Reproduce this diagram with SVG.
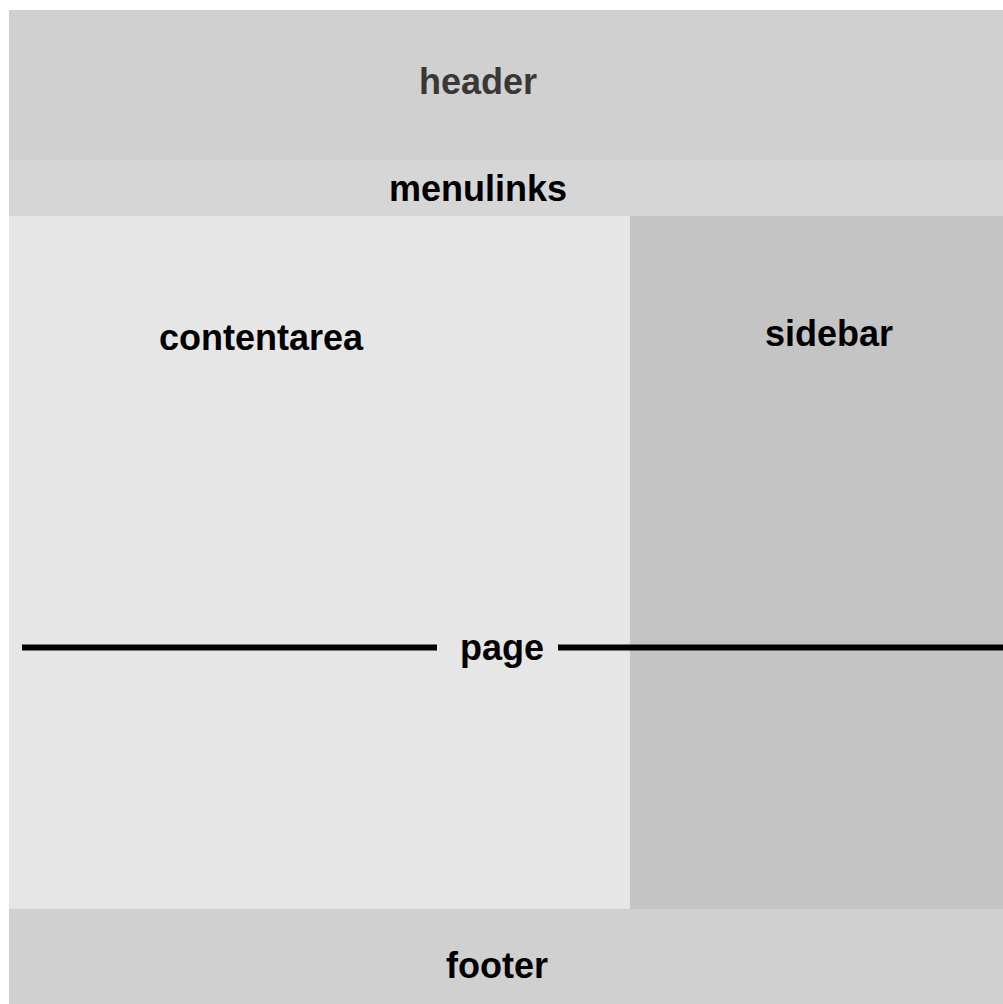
<svg xmlns="http://www.w3.org/2000/svg" width="1003" height="1004" viewBox="0 0 1003 1004">
<style>
text{font-family:"Liberation Sans",Arial,sans-serif;font-weight:bold;font-size:36px;text-anchor:middle;fill:#000}
.hd{fill:#3a3836}
</style>
<rect width="1003" height="1004" fill="#fff"/>
<g id="header"><rect x="9" y="10" width="994" height="150" fill="#d0d0d0"/><text class="hd" x="478" y="94">header</text></g>
<g id="menulinks"><rect x="9" y="160" width="994" height="56" fill="#d6d6d6"/><text x="478" y="201">menulinks</text></g>
<g id="contentarea"><rect x="9" y="216" width="621" height="693" fill="#e6e6e6"/><text x="261" y="350">contentarea</text></g>
<g id="sidebar"><rect x="630" y="216" width="373" height="693" fill="#c4c4c4"/><text x="829" y="346">sidebar</text></g>
<g id="footer"><rect x="9" y="909" width="994" height="95" fill="#d0d0d0"/><text x="497" y="978">footer</text></g>
<g id="connectors">
<line x1="22" y1="647.5" x2="437" y2="647.5" stroke="#000" stroke-width="6"/>
<line x1="558" y1="647.5" x2="1003" y2="647.5" stroke="#000" stroke-width="6"/>
</g>
<g id="page"><text x="502" y="660">page</text></g>
</svg>
